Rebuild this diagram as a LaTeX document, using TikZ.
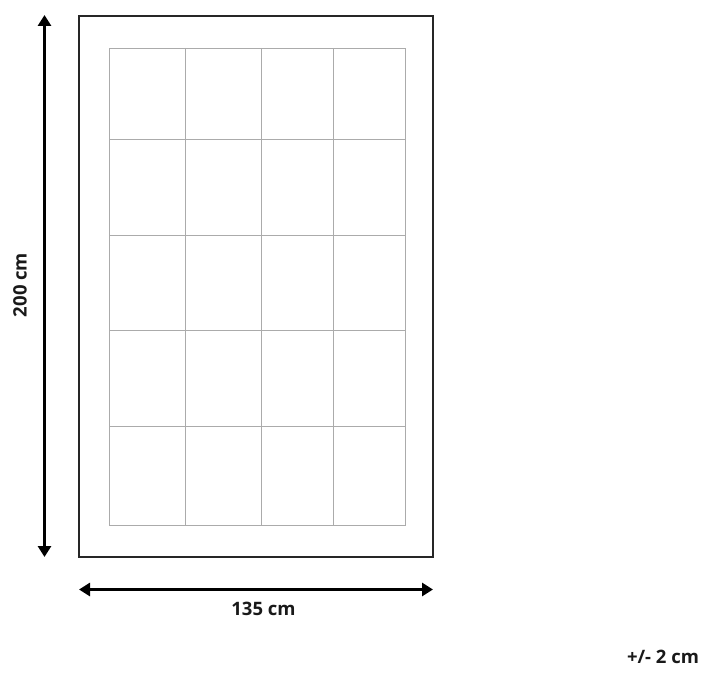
\documentclass[tikz,border=0pt]{standalone}
\usepackage{fontspec}
\setmainfont{Open Sans}
\usetikzlibrary{arrows.meta}
\definecolor{gridgray}{HTML}{ABABAB}
\tikzset{
  outerbox/.style={draw=black!85, line width=1.1pt},
  gridline/.style={draw=gridgray, line width=0.8pt},
  dimarrow/.style={line width=2.8pt, {Triangle[length=11pt,width=13pt]}-{Triangle[length=11pt,width=13pt]}},
  dimlabel/.style={font=\bfseries\fontsize{18.5}{22}\selectfont, text=black!90, inner sep=0pt}
}
\begin{document}
\begin{tikzpicture}[x=1pt,y=-1pt]
\useasboundingbox (0,0) rectangle (706,676);
\draw[outerbox] (79,16) rectangle (433,557);
% grid
\draw[gridline] (109,48) rectangle (405,525);
\foreach \xx in {185,261,333} \draw[gridline] (\xx,48) -- (\xx,525);
\foreach \yy in {139,235,330,426} \draw[gridline] (109,\yy) -- (405,\yy);
% dimension arrows
\coordinate (vt) at (44.5,15);
\coordinate (vb) at (44.5,557);
\coordinate (hl) at (79,589.5);
\coordinate (hr) at (433,589.5);
\draw[dimarrow] (vb) -- (vt);
\draw[dimarrow] (hl) -- (hr);
\node[dimlabel, rotate=90] (lh) at (20,285) {200 cm};
\node[dimlabel] (lw) at (263.5,609) {135 cm};
\node[dimlabel] (tol) at (663,657) {+/- 2 cm};
\end{tikzpicture}
\end{document}
